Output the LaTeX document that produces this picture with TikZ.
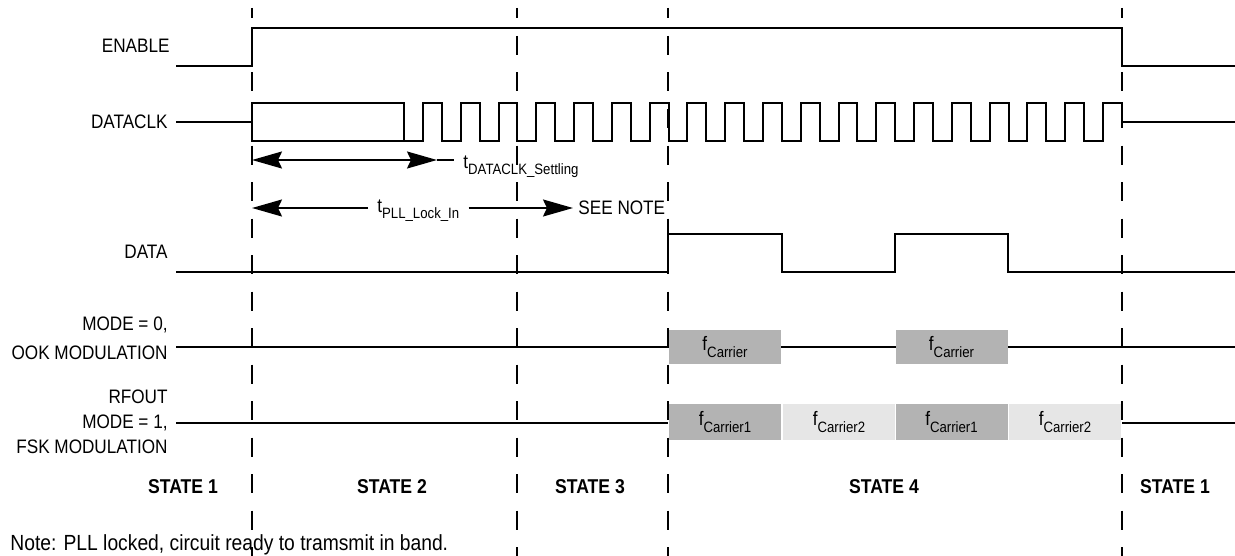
\documentclass[tikz,border=0pt]{standalone}
\usepackage{fontspec}
\setmainfont{Liberation Sans}
\newfontfamily\narrowsf{Liberation Sans}[FakeStretch=0.88]
\usepackage{tikz}
\usetikzlibrary{arrows.meta,calc,positioning}
\definecolor{carrier}{HTML}{B3B3B3}
\definecolor{carrieralt}{HTML}{E6E6E6}
\newcommand\lowsub[1]{\raisebox{-3.3pt}{\fontsize{7.5}{8}\selectfont#1}}

\begin{document}
\begin{tikzpicture}[
        x=0.5pt,y=-0.5pt,
        sig/.style={line width=1pt,line join=miter},
        divider/.style={line width=1pt,dash pattern=on 9.5pt off 8.75pt,dash phase=4.25pt},
        signame/.style={font=\narrowsf\fontsize{9.75}{12.5}\selectfont,align=right,anchor=east,inner sep=0pt},
        statelbl/.style={font=\narrowsf\bfseries\fontsize{10}{12}\selectfont,inner sep=0pt},
        timelbl/.style={font=\narrowsf\fontsize{9.75}{12}\selectfont,inner xsep=4.5pt,inner ysep=0pt,anchor=base west},
        carrierbox/.style={fill=carrier,minimum width=56pt,minimum height=17pt,inner sep=0pt,
                           font=\narrowsf\fontsize{9.75}{12}\selectfont},
        carrierboxalt/.style={carrierbox,fill=carrieralt}
      ]
        \useasboundingbox (0,0) rectangle (1235,556);
        \foreach \x in {252,517,668,1122}
          \draw[divider] (\x,8) -- (\x,556);

        \node[signame] (enable) at (170,46) {ENABLE};
        \node[signame] (dataclk) at (168,122) {DATACLK};
        \node[signame] (data) at (168,252) {DATA};
        \node[signame] (ook) at (168,338) {MODE = 0,\\[2pt]OOK MODULATION};
        \node[signame] (fsk) at (168,422) {RFOUT\\MODE = 1,\\FSK MODULATION};

        \draw[sig] (176,66) -- (252,66) -- (252,28) -- (1122,28) -- (1122,66) -- (1235,66);
        \draw[sig] (176,122) -- (252,122);
        \draw[sig] (404,141) -- (404,103) -- (252,103) -- (252,141) -- (423,141)
          \foreach \k in {1,...,18} {-- ++(0,-38) -- ++(18.89,0) -- ++(0,38) -- ++(18.89,0)}
          -- ++(0,-38) -- ++(18.89,0) -- ++(0,19) -- (1235,122);
        \draw[sig] (176,272) -- (668,272) -- (668,234) -- (782,234) -- (782,272)
          -- (895,272) -- (895,234) -- (1008,234) -- (1008,272) -- (1235,272);
        \draw[sig] (176,347) -- (1235,347);
        \draw[sig] (176,423) -- (668,423);
        \draw[sig] (1122,423) -- (1235,423);

        \node[carrierbox] (ook1) at (725,347) {f\lowsub{Carrier}};
        \node[carrierbox] (ook2) at (951.5,347) {f\lowsub{Carrier}};
        \node[carrierbox,minimum height=18pt] (fsk1) at (725,422) {f\lowsub{Carrier1}};
        \node[carrierboxalt,minimum height=18pt] (fsk2) at (839,422) {f\lowsub{Carrier2}};
        \node[carrierbox,minimum height=18pt] (fsk3) at (951.5,422) {f\lowsub{Carrier1}};
        \node[carrierboxalt,minimum height=18pt] (fsk4) at (1065,422) {f\lowsub{Carrier2}};

        \coordinate (settleL) at (252,160);
        \coordinate (settleR) at (437,160);
        \node[timelbl] (settle) at (454,168) {t\lowsub{DATACLK\_Settling}};
        \draw[{Stealth[length=15pt,width=8.5pt,inset=2pt]}-{Stealth[length=15pt,width=8.5pt,inset=2pt]},line width=0.8pt]
  (settleL) -- (settleR);
        \draw[line width=0.8pt] (settleR) -- (settle.west |- settleR);

        \coordinate (lockL) at (252,208);
        \node[timelbl] (lock) at (368,212) {t\lowsub{PLL\_Lock\_In}};
        \node[timelbl,inner xsep=2.5pt] (seenote) at (573,214) {SEE NOTE};
        \draw[-{Stealth[length=15pt,width=8.5pt,inset=2pt]},line width=0.8pt] (lock.west |- lockL) -- (lockL);
        \draw[-{Stealth[length=15pt,width=8.5pt,inset=2pt]},line width=0.8pt] (lock.east |- lockL) -- (seenote.west |- lockL);

        \node[statelbl] (s1) at (183,487) {STATE 1};
        \node[statelbl] (s2) at (392,487) {STATE 2};
        \node[statelbl] (s3) at (590,487) {STATE 3};
        \node[statelbl] (s4) at (884,487) {STATE 4};
        \node[statelbl] (s1b) at (1175,487) {STATE 1};
        \node[font=\narrowsf\fontsize{10.95}{13}\selectfont,anchor=base west,inner sep=0pt] (footnote) at (10,550)
  {Note: PLL locked, circuit ready to tramsmit in band.};
      \end{tikzpicture}
\end{document}
